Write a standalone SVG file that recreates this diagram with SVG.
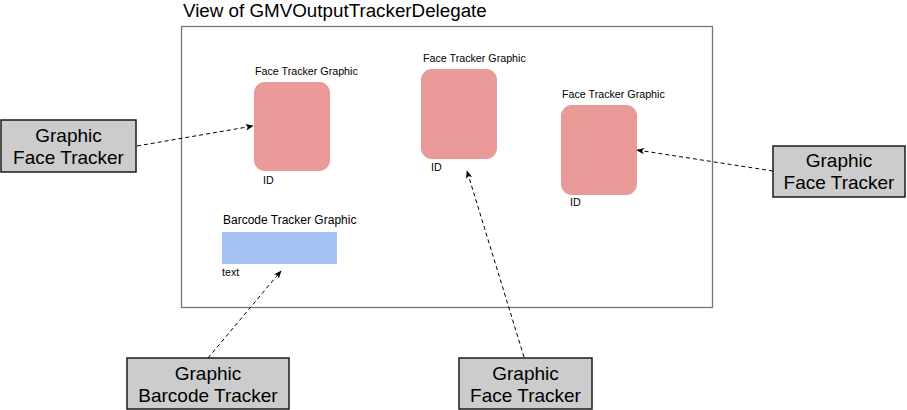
<svg xmlns="http://www.w3.org/2000/svg" width="907" height="410" viewBox="0 0 907 410">
<defs>
<style>
text{font-family:"Liberation Sans",Arial,sans-serif;fill:#000}
.frame{fill:none;stroke:#757575;stroke-width:1.3}
.face{fill:#ea9999}
.bar{fill:#a4c2f4}
.src{fill:#cccccc;stroke:#1a1a1a;stroke-width:1.5}
.small{font-size:10.7px}
.big{font-size:19px;text-anchor:middle}
.conn{fill:none;stroke:#000;stroke-width:1;stroke-dasharray:4,3;marker-end:url(#ah)}
</style>
<marker id="ah" viewBox="0 0 10 10" refX="9" refY="5" markerWidth="8" markerHeight="8" markerUnits="userSpaceOnUse" orient="auto">
<path d="M0,1 L10,5 L0,9 L2.5,5 Z" fill="#000"/>
</marker>
</defs>
<g id="view">
<rect class="frame" x="181.5" y="26.5" width="531" height="281"/>
<text x="183" y="17" font-size="18.8">View of GMVOutputTrackerDelegate</text>
</g>
<g id="face1">
<text class="small" x="255" y="75">Face Tracker Graphic</text>
<rect class="face" x="254" y="82" width="76" height="89" rx="11"/>
<text class="small" x="263" y="184">ID</text>
</g>
<g id="face2">
<text class="small" x="423" y="62">Face Tracker Graphic</text>
<rect class="face" x="421" y="69" width="76" height="90" rx="11"/>
<text class="small" x="431" y="171">ID</text>
</g>
<g id="face3">
<text class="small" x="562" y="97.5">Face Tracker Graphic</text>
<rect class="face" x="561" y="105" width="76" height="90" rx="11"/>
<text class="small" x="570" y="206">ID</text>
</g>
<g id="barcode">
<text x="223" y="224" font-size="12">Barcode Tracker Graphic</text>
<rect class="bar" x="222" y="232" width="115" height="32"/>
<text class="small" x="222" y="276">text</text>
</g>
<g id="src-left">
<rect class="src" x="1" y="120" width="135" height="52"/>
<text class="big" x="68.5" y="142">Graphic</text>
<text class="big" x="68.5" y="164">Face Tracker</text>
</g>
<g id="src-right">
<rect class="src" x="773" y="146" width="132" height="51"/>
<text class="big" x="839" y="167">Graphic</text>
<text class="big" x="839" y="189">Face Tracker</text>
</g>
<g id="src-barcode">
<rect class="src" x="127" y="358" width="162" height="51"/>
<text class="big" x="208" y="380">Graphic</text>
<text class="big" x="208" y="402">Barcode Tracker</text>
</g>
<g id="src-bottom">
<rect class="src" x="459" y="358" width="133" height="51"/>
<text class="big" x="525.5" y="380">Graphic</text>
<text class="big" x="525.5" y="402">Face Tracker</text>
</g>
<g id="connectors">
<path class="conn" d="M137,146 L253,126"/>
<path class="conn" d="M773,171 L637,150"/>
<path class="conn" d="M524,357 L467,171"/>
<path class="conn" d="M208,358 L281,271"/>
</g>
</svg>
